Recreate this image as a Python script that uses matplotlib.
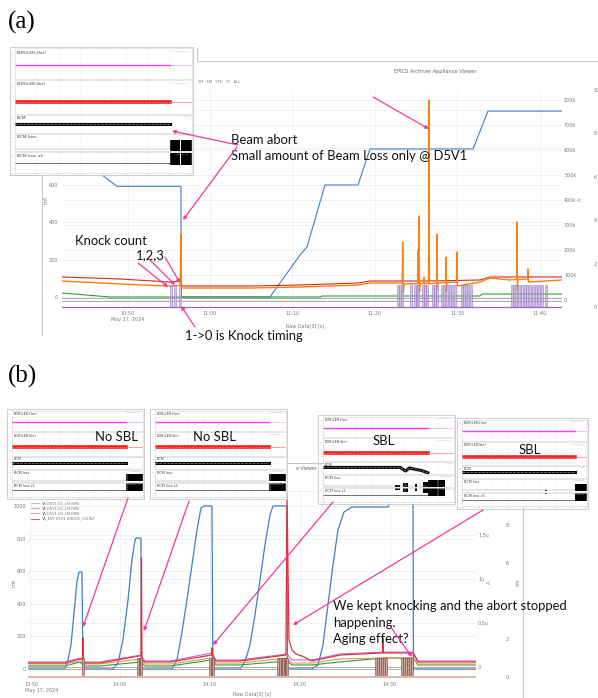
import matplotlib
matplotlib.use("Agg")
from matplotlib import pyplot as plt
from matplotlib.lines import Line2D
from matplotlib.transforms import ScaledTranslation

W, H = 598, 698
NOTE_FONT = "Lato"
PINK = "#f0399b"
TICK_GREY = "#7a7a7a"
GRID = "#ebebeb"

# ---------------- panel (a): time in minutes after 10:00
a_tick_t = [50, 60, 70, 80, 90, 100]
a_tick_labels = ["10:50\nMay 17, 2024", "11:00", "11:10", "11:20", "11:30", "11:40"]
a_ma_ticks = [0, 200, 400, 600, 800, 1000]
a_k_ticks = [0, 100, 200, 300, 400, 500, 600, 700, 800]
a_knock_ticks = [0, 2, 4, 6, 8, 10]

a_beam_t = [42.06, 46.91, 48.73, 56.48, 56.52, 67.27, 70.91, 71.76, 73.94, 77.94,
            79.39, 91.88, 93.70, 102.67]
a_beam_ma = [798, 654, 593, 593, 0, 0, 225, 268, 600, 600, 793, 793, 996, 996]

a_loss_t = [42.06, 46.67, 51.52, 55.15, 56.40, 56.46, 56.55, 57.58, 64.85, 70.91,
            77.94, 79.39, 83.30, 83.36, 83.44, 83.52, 85.15, 85.21, 85.27, 85.30,
            85.34, 85.40, 85.46, 85.90, 85.94, 85.98, 86.50, 86.55, 86.60, 87.48,
            87.52, 87.57, 87.62, 88.57, 88.61, 88.66, 88.72, 89.90, 89.94, 89.99,
            92.73, 93.94, 96.36, 97.17, 97.21, 97.26, 97.32, 98.50, 98.55, 98.60,
            102.67]
a_loss_k = [76, 68, 60, 56, 58, 264, 48, 48, 48, 52,
            60, 68, 68, 232, 28, 64, 66, 200, 66, 70,
            336, 32, 66, 66, 92, 64, 68, 800, 64, 68,
            264, 40, 68, 70, 172, 32, 70, 72, 192, 56,
            72, 88, 80, 82, 312, 40, 82, 84, 124, 72,
            80]

a_ler_t = [42.06, 49.09, 55.15, 56.36, 56.61, 64.85, 70.91, 77.94, 79.39, 86.50,
           86.55, 86.60, 92.73, 93.94, 102.67]
a_ler_k = [92, 84, 72, 76, 56, 56, 60, 68, 76, 76, 120, 76, 80, 92, 92]

a_her_t = [42.06, 47.88, 73.33, 73.58, 92.73, 92.97, 102.67]
a_her_k = [28, 12, 12, 16, 16, 24, 24]

a_ref_k = [8, -4]

a_knock_t = [55.27, 55.76, 56.36, 82.79, 83.03, 83.27, 84.36, 84.85, 85.09, 85.21,
             85.82, 86.06, 86.30, 87.03, 87.27, 87.52, 88.12, 88.36, 88.73, 89.09,
             89.33, 89.70, 90.55, 90.79, 91.03, 91.27, 91.64, 96.61, 96.85, 97.09,
             97.45, 97.82, 98.18, 98.42, 98.79, 99.15, 99.52, 99.88, 100.24, 100.73]
a_knock = [1, 1, 1, 1, 1, 1, 1, 1, 1, 1,
           1, 1, 1, 1, 1, 1, 1, 1, 1, 1,
           1, 1, 1, 1, 1, 1, 1, 1, 1, 1,
           1, 1, 1, 1, 1, 1, 1, 1, 1, 1]

# ---------------- panel (b): time in minutes after 13:00
b_tick_t = [50, 60, 70, 80, 90]
b_tick_labels = ["13:50\nMay 17, 2024", "14:00", "14:10", "14:20", "14:30"]
b_ma_ticks = [0, 200, 400, 600, 800, 1000]
b_u_ticks = [0, 0.5, 1.0, 1.5, 2.0]
b_u_labels = ["0", "0.5u", "1u", "1.5u", "2u"]
b_knock_ticks = [0, 2, 6, 8]   # the "4" is hidden under the note in the original

b_beam_t = [49.78, 53.89, 54.22, 54.56, 54.89, 55.22, 55.44, 55.78, 55.89, 59.22,
            59.78, 60.33, 60.89, 61.33, 61.67, 61.78, 62.33, 62.39, 65.78, 66.33,
            66.89, 67.44, 68.0, 68.56, 69.0, 69.33, 70.22, 70.33, 73.33, 73.89,
            74.44, 75.0, 75.56, 76.11, 76.67, 77.0, 78.56, 78.61, 81.33, 82.0,
            82.56, 83.11, 83.67, 84.22, 84.89, 85.78, 89.78, 90.22, 92.56, 92.61, 99.56]
b_beam_ma = [0, 0, 55, 147, 344, 534, 595, 595, 0, 0,
             37, 178, 423, 669, 791, 804, 804, 0, 0, 55,
             227, 423, 638, 853, 988, 1000, 1000, 0, 0, 43,
             147, 331, 546, 761, 945, 1000, 1000, 0, 0, 25,
             147, 393, 638, 853, 963, 994, 994, 1049, 1098, 0, 0]

b_t = [49.78, 53.89, 55.56, 56.0, 57.78, 62.33, 62.78, 65.56, 70.22, 70.67,
       73.33, 78.56, 79.11, 81.33, 84.44, 89.22, 92.56, 93.11, 99.56]
b_purple_u = [0.057, 0.057, 0.102, 0.057, 0.057, 0.136, 0.068, 0.068, 0.159, 0.080,
              0.080, 0.148, 0.080, 0.080, 0.148, 0.170, 0.170, 0.068, 0.068]
b_tan_u = [0.034, 0.034, 0.068, 0.034, 0.034, 0.091, 0.034, 0.034, 0.102, 0.045,
           0.045, 0.102, 0.045, 0.045, 0.091, 0.102, 0.102, 0.034, 0.034]
b_green_u = [0.011, 0.011, 0.057, 0.011, 0.011, 0.057, 0.011, 0.011, 0.080, 0.023,
             0.023, 0.068, 0.023, 0.023, 0.057, 0.102, 0.102, 0.023, 0.023]

b_red_t = [49.78, 53.89, 55.56, 55.83, 55.89, 55.94, 56.0, 57.78, 62.11, 62.33,
           62.39, 62.44, 62.78, 65.56, 70.17, 70.22, 70.28, 70.67, 73.33, 78.44,
           78.56, 78.78, 79.11, 79.56, 80.22, 81.33, 84.44, 89.17, 89.22, 89.28,
           92.56, 93.11, 99.56]
b_red_u = [0.045, 0.045, 0.091, 0.091, 0.330, 0.080, 0.045, 0.045, 0.125, 0.125,
           1.239, 0.080, 0.057, 0.057, 0.136, 0.216, 0.125, 0.068, 0.068, 0.136,
           1.955, 0.307, 0.193, 0.148, 0.125, 0.068, 0.136, 0.159, 0.330, 0.159,
           0.159, 0.057, 0.057]
b_ref_u = [0, -0.02]

b_knock_t = [55.89, 62.0, 62.17, 62.33, 70.0, 70.17, 70.33, 77.56, 77.78, 77.94,
             78.11, 78.28, 78.44, 78.56, 88.44, 88.67, 88.89, 89.11, 89.33, 89.56,
             91.33, 91.56, 91.78, 92.0, 92.22, 92.44]
b_knock = [1, 1, 1, 1, 1, 1, 1, 1, 1, 1,
           1, 1, 1, 1, 1, 1, 1, 1, 1, 1,
           1, 1, 1, 1, 1, 1]
b_legend = ["VA:D5V1:D1_LM:RMS", "VA:D5V1:D2_LM:RMS", "VA:D5V1:D3_LM:RMS",
            "VA_KSP:D5V1:KNOCK_COUNT"]

# ---------------- BOR / BCM snapshots pasted over the charts
inset_names = ["BOR(LER-Hor)", "BOR(LER-Ver)", "BCM", "BCM loss", "BCM loss x5"]
inset_end = [0.876, 0.87, 0.87, 0.80, 0.90]
inset_loss_spans = [
    [(0.876, 0.935), (0.94, 1.0)],
    [(0.87, 0.93), (0.935, 1.0)],
    [(0.87, 0.93), (0.935, 1.0)],
    [(0.55, 0.59), (0.61, 0.65), (0.70, 0.72), (0.76, 0.80), (0.80, 0.93)],
    [(0.66, 0.68), (0.90, 1.0)],
]
inset_loss_h = [[0.6, 0.6], [0.6, 0.6], [0.6, 0.6],
                [0.15, 0.3, 0.2, 0.35, 0.6], [0.1, 0.6]]
inset_bcm_t = [[0, 0.876], [0, 0.87], [0, 0.87],
               [0, 0.59, 0.63, 0.66, 0.70, 0.75, 0.80], [0, 0.90]]
inset_bcm_v = [[0.5, 0.5], [0.5, 0.5], [0.5, 0.5],
               [0.55, 0.55, 0.25, 0.5, 0.4, 0.3, 0.1], [0.5, 0.5]]


def px_rect(x0, y0, x1, y1):
    return [x0 / W, 1 - y1 / H, (x1 - x0) / W, (y1 - y0) / H]


fig = plt.figure(figsize=(W / 100, H / 100), dpi=100)


def main_axes(box, xlim, left_lim, r1_lim, r2_lim, r2_out, fs=3.5):
    ax = fig.add_axes(px_rect(*box))
    r1 = ax.twinx()
    r2 = ax.twinx()
    r2.spines["right"].set_position(("outward", r2_out))
    for a in (ax, r1, r2):
        for s in a.spines.values():
            s.set_visible(False)
        a.tick_params(length=0, labelsize=fs, labelcolor=TICK_GREY, pad=1.5)
    ax.set_xlim(*xlim)
    ax.set_ylim(*left_lim)
    r1.set_ylim(*r1_lim)
    r2.set_ylim(*r2_lim)
    ax.grid(color=GRID, lw=0.5)
    return ax, r1, r2


def r1_grid(ax, r1, ticks):
    # horizontal grid of the right scale, drawn under everything on the left axes
    fig.canvas.draw()
    for v in ticks:
        yy = ax.transData.inverted().transform(r1.transData.transform((0, v)))[1]
        ax.axhline(yy, color=GRID, lw=0.5, zorder=0)


lab = dict(fontsize=3.5, color=TICK_GREY)

# ---------------- (a)
ax_a, r1_a, r2_a = main_axes((62, 90, 562, 309), (42.06, 102.67), (-64.3, 1108.9),
                             (-36, 840), (-0.092, 9.954), 21)
ax_a.set_xticks(a_tick_t, a_tick_labels)
ax_a.set_yticks(a_ma_ticks)
ax_a.tick_params(axis="y", pad=3)
r1_a.set_yticks(a_k_ticks, [f"{v}k" if v else "0" for v in a_k_ticks])
r2_a.set_yticks(a_knock_ticks)
ax_a.set_ylabel("mA", **lab)
ax_a.yaxis.set_label_coords(-0.028, 0.5)
r1_a.set_ylabel("A", **lab)
r1_a.yaxis.set_label_coords(1.032, 0.5)
ax_a.set_xlabel("Raw Data[3] [s]", **lab)
ax_a.xaxis.set_label_coords(0.486, -0.064)
r1_grid(ax_a, r1_a, a_k_ticks)

ax_a.plot(a_beam_t, a_beam_ma, color="#3f7fc4", lw=0.8)
r1_a.plot(a_her_t, a_her_k, color="#2ca02c", lw=0.8)
for v in a_ref_k:
    r1_a.axhline(v, color="#9a9a9a", lw=0.6)
r1_a.plot(a_ler_t, a_ler_k, color="#d62728", lw=0.8)
r1_a.plot(a_loss_t, a_loss_k, color="#ff7f0e", lw=1.0)
r2_a.bar(a_knock_t, a_knock, width=0.18, color="#c7b3e0", edgecolor="#8e6bbf",
         lw=0.4, alpha=0.8)
r2_a.axhline(0, color="#9467bd", lw=0.9)

# ---------------- (b)
ax_b, r1_b, r2_b = main_axes((28, 488, 476, 680), (49.78, 99.56), (-67.5, 1110.4),
                             (-0.148, 2.034), (-0.158, 9.947), 19.5)
ax_b.set_xticks(b_tick_t, b_tick_labels)
first = ax_b.get_xticklabels()[0]
first.set_horizontalalignment("left")
first.set_transform(first.get_transform() + ScaledTranslation(-0.05, 0, fig.dpi_scale_trans))
ax_b.set_yticks(b_ma_ticks)
r1_b.set_yticks(b_u_ticks, b_u_labels)
r2_b.set_yticks(b_knock_ticks)
ax_b.set_ylabel("mA", **lab)
ax_b.yaxis.set_label_coords(-0.025, 0.505)
r1_b.set_ylabel("A", **lab)
r1_b.yaxis.set_label_coords(1.025, 0.51)
r2_b.set_ylabel("A/s", **lab)
r2_b.yaxis.set_label_coords(1.087, 0.51)
ax_b.set_xlabel("Raw Data[3] [s]", **lab)
ax_b.xaxis.set_label_coords(0.5, -0.057)
r1_grid(ax_b, r1_b, b_u_ticks)

ax_b.plot(b_beam_t, b_beam_ma, color="#3f7fc4", lw=0.9)
for v in b_ref_u:
    r1_b.axhline(v, color="#a0a0a0", lw=0.6)
r1_b.plot(b_t, b_green_u, color="#2ca02c", lw=0.8)
r1_b.plot(b_t, b_tan_u, color="#e8955a", lw=0.8)
r1_b.plot(b_t, b_purple_u, color="#a879d6", lw=0.8)
r1_b.plot(b_red_t, b_red_u, color="#e03040", lw=0.9)
r2_b.bar(b_knock_t, b_knock, width=0.14, color="#c9a39a", edgecolor="#7b4a3e", lw=0.4)
r2_b.axhline(0, color="#dcb8b0", lw=1.4)

handles = [Line2D([], [], color=c, lw=0.8) for c in
           ["#9fd89f", "#f19a9a", "#c3a8e6", "#a77c70"]]
fig.legend(handles, b_legend, loc="upper left", bbox_to_anchor=(31 / W, 1 - 501 / H),
           frameon=False, fontsize=2.6, handlelength=2.2, labelspacing=0.35,
           borderpad=0, borderaxespad=0, labelcolor=TICK_GREY)


# ---------------- snapshot insets
def draw_inset(box, i, fs):
    x0, y0, x1, y1 = box
    end = inset_end[i]
    bg = fig.add_axes(px_rect(x0 - 5, y0 - 1, x1 + 1, y1 + 2), zorder=9)
    bg.set_xticks([])
    bg.set_yticks([])
    for s in bg.spines.values():
        s.set_color("#c8c8c8")
        s.set_linewidth(0.6)
    fracs = [0.25, 0.28, 0.15, 0.15, 0.17]
    y = y0
    for k, f in enumerate(fracs):
        h = (y1 - y0) * f
        a = fig.add_axes(px_rect(x0, y + 0.5, x1, y + h - 0.5), zorder=10)
        a.set_xlim(0, 1)
        a.set_ylim(0, 1)
        a.set_xticks([0, 0.125, 0.25, 0.375, 0.5, 0.625, 0.75, 0.875, 1.0])
        a.set_yticks([0.2, 0.5, 0.8], ["0", "5", "10"])
        a.tick_params(length=0, labelsize=1.5, labelcolor="#aaaaaa", pad=0.6)
        if k < 4:
            a.set_xticklabels([])
        else:
            a.set_xticklabels(["10:40", "10:45", "10:50", "10:55", "11:00",
                               "11:05", "11:10", "11:15", "11:20"])
        a.grid(axis="x", color="#efefef", lw=0.3)
        for s in a.spines.values():
            s.set_color("#d5d5d5")
            s.set_linewidth(0.4)
        a.text(0.012, 0.93, inset_names[k], transform=a.transAxes, fontsize=fs,
               va="top", color="#444444")
        a.text(0.98, 0.93, "— " + inset_names[k], transform=a.transAxes, fontsize=1.4,
               va="top", ha="right", color="#aaaaaa")
        if k == 0:
            a.plot([0, end], [0.45, 0.45], color="#ff3cff", lw=1.0)
            a.plot([end, 1], [0.45, 0.45], color="#ff9cff", lw=0.5)
        elif k == 1:
            a.plot([0, end], [0.35, 0.35], color="#ff1a1a", lw=2.6)
            a.plot([0, end], [0.35, 0.35], color="#ff8c8c", lw=0.4, dashes=(4, 2))
            a.plot([end, 1], [0.35, 0.35], color="#ff8080", lw=0.5)
        elif k == 2:
            a.plot(inset_bcm_t[i], inset_bcm_v[i], color="black", lw=2.2)
            a.plot(inset_bcm_t[i], inset_bcm_v[i], color="#bdbdbd", lw=0.4, dashes=(5, 2))
        elif k == 3:
            a.plot([0, end], [0.1, 0.1], color="#888888", lw=0.3)
            for (s0, s1), hh in zip(inset_loss_spans[i], inset_loss_h[i]):
                a.fill_between([s0, s1], 0.02, 0.02 + hh, color="black", lw=0)
        else:
            a.plot([0, end], [0.45, 0.45], color="#333333", lw=0.5)
            for (s0, s1), hh in zip(inset_loss_spans[i], inset_loss_h[i]):
                a.fill_between([s0, s1], 0.98 - hh, 0.98, color="black", lw=0)
        y += h


inset_boxes = [(15, 48, 192, 173), (12, 410, 143, 497), (155, 410, 286, 497),
               (323, 416, 454, 502), (462, 419, 587, 507)]
draw_inset(inset_boxes[0], 0, 3.2)
for j in range(1, 5):
    draw_inset(inset_boxes[j], j, 2.4)

# ---------------- annotations drawn in pixel space
ov = fig.add_axes([0, 0, 1, 1], zorder=20)
ov.set_xlim(0, W)
ov.set_ylim(H, 0)
ov.axis("off")
ov.patch.set_alpha(0)

ov.text(8, 22, "(a)", family="Liberation Serif", fontsize=18, va="center")
ov.text(8, 376, "(b)", family="Liberation Serif", fontsize=18, va="center")

# window frames of the archiver screenshots
for xs, ys in [([197, 598], [61, 61]), ([197, 197], [48, 61]), ([10, 42], [175, 175]),
               ([42, 42], [175, 335]), ([287, 323], [463, 463]), ([523, 523], [508, 698])]:
    ov.plot(xs, ys, color="#c4c4c4", lw=0.7)
ov.text(435, 72, "EPICS Archiver Appliance Viewer", fontsize=3.6, color="#666666",
        ha="center", va="center")
ov.text(198, 82, "1M   6M   YTD   1Y   ALL", fontsize=2.6, color="#777777", va="center")
ov.text(296, 468, "e Viewer", fontsize=3.4, color="#666666", va="center")

note = dict(family=NOTE_FONT, fontsize=9.4, color="#111111", va="center", ha="left")
ov.text(231, 140, "Beam abort", **note)
ov.text(231, 156, "Small amount of Beam Loss only @ D5V1", **note)
ov.text(75, 241, "Knock count", **note)
ov.text(136, 255, "1,2,3", **note)
ov.text(185, 336, "1->0 is Knock timing", **note)
ov.text(95, 437, "No SBL", **note)
ov.text(193, 437, "No SBL", **note)
ov.text(373, 441, "SBL", **note)
ov.text(519, 450, "SBL", **note)
ov.text(333, 606, "We kept knocking and the abort stopped", **note)
ov.text(333, 623, "happening.", **note)
ov.text(333, 639, "Aging effect?", **note)

arrows = [((238, 145), (172, 131)), ((237, 147), (183, 220)), ((373, 97), (429, 129)),
          ((138, 263), (168, 287)), ((149, 259), (175, 285)), ((165, 257), (180, 283)),
          ((195, 327), (181, 306)),
          ((128, 498), (83, 627)), ((189, 501), (144, 631)), ((333, 502), (213, 645)),
          ((483, 510), (293, 625)), ((390, 626), (412, 657))]
for start, end in arrows:
    ov.annotate("", xy=end, xytext=start,
                arrowprops=dict(arrowstyle="-|>", color=PINK, lw=0.9,
                                mutation_scale=5, shrinkA=0, shrinkB=0))

fig.savefig("out.png", dpi=100)
